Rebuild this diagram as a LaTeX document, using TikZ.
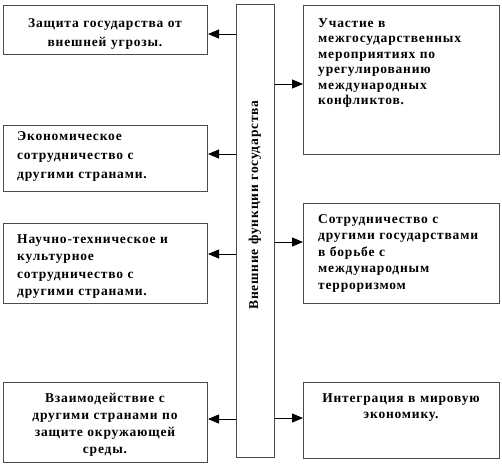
\documentclass[tikz,border=0pt]{standalone}
\usepackage{fontspec}
\setmainfont{Liberation Serif}[LetterSpace=6]
\usetikzlibrary{arrows.meta}
\begin{document}
\begin{tikzpicture}[x=1pt,y=-1pt,
  fbox/.style={draw=black!70,line width=1pt,inner sep=0pt,anchor=north west},
  txt/.style={inner sep=0pt,anchor=base west,align=left,
    font=\fontsize{13.5}{16.5}\selectfont\bfseries},
  ctxt/.style={txt,anchor=base,align=center},
  arr/.style={-{Triangle[length=11pt,width=9pt]},line width=0.8pt}]
  \useasboundingbox (0,0) rectangle (502,464);
  \node[fbox,minimum width=204pt,minimum height=49pt] (l1) at (3,5) {};
  \node[fbox,minimum width=204pt,minimum height=66pt] (l2) at (3,125) {};
  \node[fbox,minimum width=204pt,minimum height=80pt] (l3) at (3,223) {};
  \node[fbox,minimum width=204pt,minimum height=80pt] (l4) at (3,382) {};
  \node[fbox,minimum width=38pt,minimum height=453pt] (cv) at (236,4) {};
  \node[fbox,minimum width=196pt,minimum height=149pt] (r1) at (303,5) {};
  \node[fbox,minimum width=196pt,minimum height=100pt] (r2) at (303,203) {};
  \node[fbox,minimum width=196pt,minimum height=76pt] (r3) at (303,382) {};
  \node[ctxt,font=\fontsize{13.5}{19}\selectfont\bfseries,text width=194pt] (l1t) at (105,27)
    {Защита государства от\\внешней угрозы.};
  \node[txt,font=\fontsize{13.5}{19}\selectfont\bfseries,text width=185pt] (l2t) at (17,140)
    {Экономическое\\сотрудничество с\\другими странами.};
  \node[txt,font=\fontsize{13.5}{17.5}\selectfont\bfseries,text width=185pt] (l3t) at (17,243)
    {Научно-техническое и\\культурное\\сотрудничество с\\другими странами.};
  \node[ctxt,font=\fontsize{13.5}{17}\selectfont\bfseries,text width=194pt] (l4t) at (105,402)
    {Взаимодействие с\\другими странами по\\защите окружающей\\среды.};
  \node[ctxt,rotate=90,text width=300pt] (cvt) at (258,205) {Внешние функции государства};
  \node[txt,font=\fontsize{13.5}{15.5}\selectfont\bfseries,text width=178pt] (r1t) at (318,27)
    {Участие в\\межгосударственных\\мероприятиях по\\урегулированию\\международных\\конфликтов.};
  \node[txt,text width=178pt] (r2t) at (318,223)
    {Сотрудничество с\\другими государствами\\в борьбе с\\международным\\терроризмом};
  \node[ctxt,text width=190pt] (r3t) at (401,402) {Интеграция в мировую\\экономику.};
  \draw[arr] (cv.west |- 0,34) -- (l1.east |- 0,34);
  \draw[arr] (cv.west |- 0,154) -- (l2.east |- 0,154);
  \draw[arr] (cv.west |- 0,254) -- (l3.east |- 0,254);
  \draw[arr] (cv.west |- 0,419) -- (l4.east |- 0,419);
  \draw[arr] (cv.east |- 0,84) -- (r1.west |- 0,84);
  \draw[arr] (cv.east |- 0,242) -- (r2.west |- 0,242);
  \draw[arr] (cv.east |- 0,418) -- (r3.west |- 0,418);
\end{tikzpicture}
\end{document}
